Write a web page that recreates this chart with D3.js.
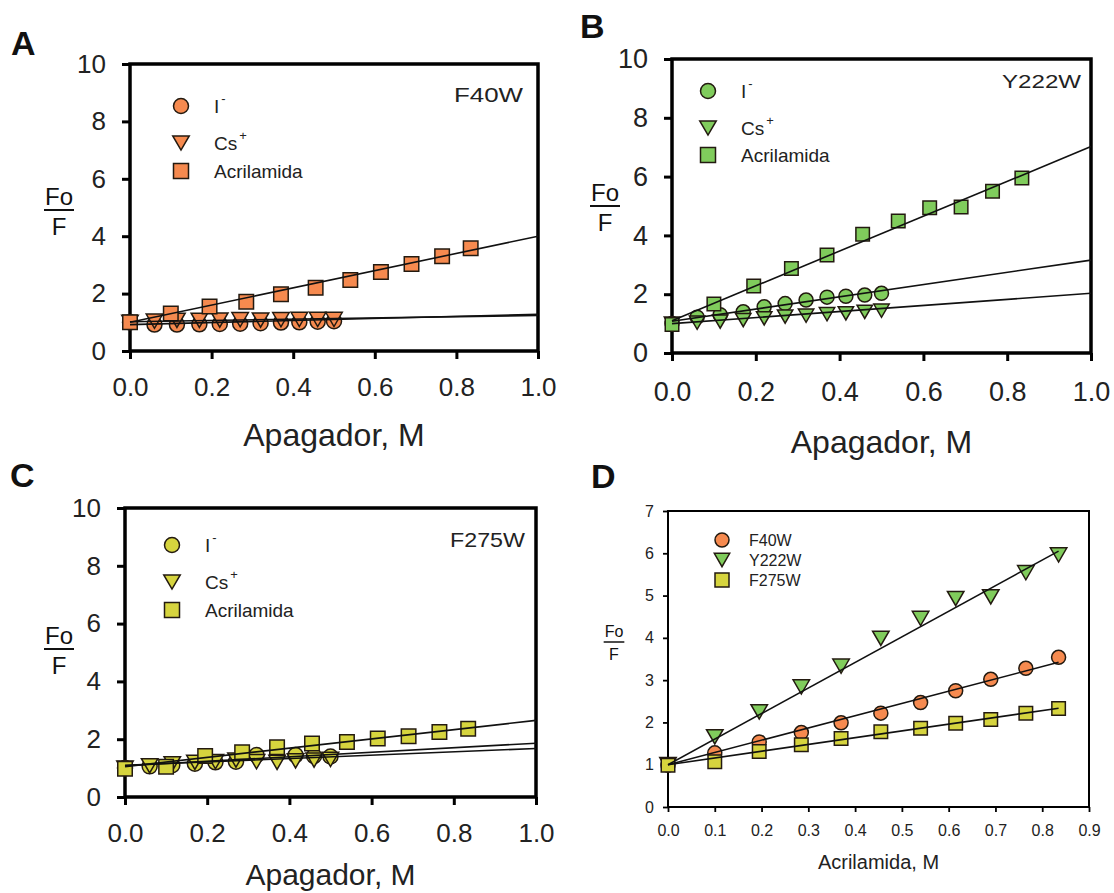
<!DOCTYPE html>
<html>
<head>
<meta charset="utf-8">
<script src="https://cdn.jsdelivr.net/npm/d3@7"></script>
<style>
  html, body { margin: 0; padding: 0; background: #fff; }
  svg { display: block; }
  text { font-family: "Liberation Sans", Arial, Helvetica, sans-serif; }
</style>
</head>
<body>
<svg id="fig" width="1114" height="893"></svg>
<script>
// ---- Quencher concentrations (M) ----
const xIon = [0, 0.06, 0.115, 0.17, 0.22, 0.27, 0.32, 0.37, 0.415, 0.46, 0.50];
const xAcr = [0, 0.10, 0.195, 0.285, 0.37, 0.455, 0.54, 0.615, 0.69, 0.765, 0.835];

// ---- Panel A: F40W (Fo/F) ----
const iodideA = [1.0, 0.92, 0.92, 0.93, 0.94, 0.95, 0.97, 0.99, 1.0, 1.02, 1.04];
const cesiumA = [1.0, 1.04, 1.07, 1.07, 1.08, 1.09, 1.08, 1.09, 1.1, 1.1, 1.1];
const acrA    = [1.0, 1.31, 1.55, 1.72, 1.98, 2.2, 2.47, 2.75, 3.03, 3.3, 3.58];

// ---- Panel B: Y222W ----
const iodideB = [1.0, 1.22, 1.30, 1.40, 1.57, 1.68, 1.80, 1.90, 1.93, 1.97, 2.03];
const cesiumB = [1.0, 1.03, 1.07, 1.12, 1.18, 1.24, 1.27, 1.32, 1.35, 1.40, 1.44];
const acrB    = [0.97, 1.67, 2.28, 2.87, 3.33, 4.04, 4.49, 4.94, 4.97, 5.5, 5.95];

// ---- Panel C: F275W ----
const iodideC = [1.0, 1.06, 1.1, 1.15, 1.2, 1.22, 1.45, 1.48, 1.45, 1.42, 1.4];
const cesiumC = [1.0, 1.08, 1.15, 1.2, 1.22, 1.28, 1.22, 1.2, 1.25, 1.28, 1.3];
const acrC    = [0.98, 1.05, 1.42, 1.55, 1.72, 1.85, 1.9, 2.02, 2.1, 2.25, 2.36];

// ---- Panel D: acrylamide, all mutants ----
const dF40W  = [0.99, 1.28, 1.54, 1.76, 1.99, 2.22, 2.47, 2.75, 3.02, 3.28, 3.54];
const dY222W = [1.0, 1.66, 2.25, 2.84, 3.33, 3.99, 4.46, 4.93, 4.97, 5.54, 5.96];
const dF275W = [0.99, 1.07, 1.31, 1.47, 1.62, 1.78, 1.86, 1.98, 2.07, 2.22, 2.33];

// ---- Stern-Volmer fits: [intercept, slope] ----
const fitA = { iodide: [0.92, 0.36], cesium: [1.02, 0.22], acr: [1.0, 3.0] };
const fitB = { iodide: [1.08, 2.08], cesium: [1.0, 1.03], acr: [1.1, 5.92] };
const fitC = { iodide: [1.08, 0.78], cesium: [1.1, 0.58], acr: [1.05, 1.6] };
const fitD = { F40W: [1.0, 2.9], Y222W: [1.0, 6.05], F275W: [1.0, 1.6] };

// ---- Labels and ticks ----
const quencherNames = ["I", "Cs", "Acrilamida"];
const quencherCharges = ["-", "+", ""];
const mutantNames = ["F40W", "Y222W", "F275W"];
const ticksFoF = [0, 2, 4, 6, 8, 10];
const ticksQuencher = [0, 0.2, 0.4, 0.6, 0.8, 1.0];
const ticksFoFD = [0, 1, 2, 3, 4, 5, 6, 7];
const ticksAcrD = [0, 0.1, 0.2, 0.3, 0.4, 0.5, 0.6, 0.7, 0.8, 0.9];

const COLORS = { F40W: "#F68A4F", Y222W: "#80CC5C", F275W: "#D6D43E" };
const EDGE = "#231a10";

const svg = d3.select("#fig");

function markerPath(shape, s) {
  if (shape === "circle") return d3.symbol(d3.symbolCircle, Math.PI * (s / 2) * (s / 2))();
  if (shape === "square") return d3.symbol(d3.symbolSquare, s * s)();
  const w = s * 1.1, h = s * 0.95;
  return `M${-w / 2},${-h / 2}L${w / 2},${-h / 2}L0,${h / 2}Z`;
}

function fracLabel(g, cx, yFo, yLine, yF, size, lw) {
  const fo = g.append("text").attr("x", cx).attr("y", yFo).attr("text-anchor", "middle")
    .attr("font-size", size).attr("fill", "#111").text("Fo");
  const w = fo.node().getComputedTextLength();
  g.append("line").attr("x1", cx - w / 2 - 1).attr("x2", cx + w / 2 + 1)
    .attr("y1", yLine).attr("y2", yLine).attr("stroke", "#111").attr("stroke-width", lw);
  g.append("text").attr("x", cx).attr("y", yF).attr("text-anchor", "middle")
    .attr("font-size", size).attr("fill", "#111").text("F");
}

function drawPanel(p) {
  const g = svg.append("g");
  const x = d3.scaleLinear().domain(p.xDomain).range([p.left, p.right]);
  const y = d3.scaleLinear().domain(p.yDomain).range([p.bottom, p.top]);

  // frame
  g.append("rect").attr("x", p.left).attr("y", p.top)
    .attr("width", p.right - p.left).attr("height", p.bottom - p.top)
    .attr("fill", "none").attr("stroke", "#000").attr("stroke-width", p.frameW);

  // axes
  const xa = g.append("g").attr("transform", `translate(0,${p.bottom})`)
    .call(d3.axisBottom(x).tickValues(p.xTicks).tickFormat(d3.format(".1f"))
      .tickSizeInner(p.tick).tickSizeOuter(0).tickPadding(p.xPad));
  const ya = g.append("g").attr("transform", `translate(${p.left},0)`)
    .call(d3.axisLeft(y).tickValues(p.yTicks).tickFormat(d3.format("d"))
      .tickSizeInner(p.tick).tickSizeOuter(0).tickPadding(p.yPad));
  [xa, ya].forEach(a => {
    a.select(".domain").remove();
    a.selectAll(".tick line").attr("stroke", "#000").attr("stroke-width", p.tickW);
    a.selectAll(".tick text").attr("font-size", p.tickFont).attr("fill", "#222")
      .attr("font-family", '"Liberation Sans", Arial, sans-serif');
  });

  // markers
  p.series.forEach(s => {
    g.append("g").selectAll("path").data(s.ys).join("path")
      .attr("d", markerPath(s.shape, s.size))
      .attr("transform", (d, i) => `translate(${x(s.xs[i])},${y(d)})`)
      .attr("fill", s.color).attr("stroke", EDGE).attr("stroke-width", 1.5);
  });

  // fit lines on top of markers
  const line = d3.line().x(d => x(d[0])).y(d => y(d[1]));
  p.series.forEach(s => {
    const [b, k] = s.fit;
    const pts = [[0, b], [s.fitEnd, b + k * s.fitEnd]];
    g.append("path").attr("d", line(pts)).attr("fill", "none")
      .attr("stroke", "#111").attr("stroke-width", p.fitW);
  });

  // legend
  p.series.forEach((s, i) => {
    const ly = p.legend.y + p.legend.rows[i];
    g.append("path").attr("d", markerPath(s.shape, p.legend.size))
      .attr("transform", `translate(${p.legend.mx},${ly})`)
      .attr("fill", s.color).attr("stroke", EDGE).attr("stroke-width", 1.5);
    const t = g.append("text").attr("x", p.legend.tx).attr("y", ly + p.legend.font * 0.36)
      .attr("font-size", p.legend.font).attr("fill", "#222").text(s.name);
    if (s.charge) {
      t.append("tspan").attr("dy", -p.legend.font * 0.5).attr("dx", 2)
        .attr("font-size", p.legend.font * 0.68).text(s.charge);
    }
  });

  // mutant tag in corner, widened horizontally
  if (p.tag) {
    const tg = g.append("g");
    const tt = tg.append("text").attr("x", 0).attr("y", 0).attr("text-anchor", "end")
      .attr("font-size", p.tag.font).attr("fill", "#222").text(p.tag.text);
    const w = tt.node().getComputedTextLength();
    tg.attr("transform", `translate(${p.right - p.tag.inset},${p.top + p.tag.dy}) scale(${p.tag.len / w},1)`);
  }

  // axis titles
  g.append("text").attr("x", (p.left + p.right) / 2).attr("y", p.xTitleY)
    .attr("text-anchor", "middle").attr("font-size", p.xTitleFont).attr("fill", "#222")
    .text(p.xTitle);
  fracLabel(g, p.frac.cx, p.frac.fo, p.frac.line, p.frac.f, p.frac.size, p.frac.lw);

  // panel letter
  svg.append("text").attr("x", p.letter.x).attr("y", p.letter.y)
    .attr("font-size", 34).attr("font-weight", "bold").attr("fill", "#111").text(p.key);
}

function quenchSeries(color, iod, ces, acr, fit, size) {
  return [
    { name: quencherNames[0], charge: quencherCharges[0], shape: "circle", color, xs: xIon, ys: iod, fit: fit.iodide, fitEnd: 1.0, size },
    { name: quencherNames[1], charge: quencherCharges[1], shape: "triangle", color, xs: xIon, ys: ces, fit: fit.cesium, fitEnd: 1.0, size },
    { name: quencherNames[2], charge: quencherCharges[2], shape: "square", color, xs: xAcr, ys: acr, fit: fit.acr, fitEnd: 1.0, size: size - 0.5 }
  ];
}

const common = {
  xDomain: [0, 1], yDomain: [0, 10], xTicks: ticksQuencher, yTicks: ticksFoF,
  tick: 8, tickW: 3, frameW: 3.5, fitW: 1.6, tickFont: 26, xPad: 19, yPad: 16,
  xTitle: "Apagador, M", xTitleFont: 32
};

drawPanel(Object.assign({}, common, {
  key: "A", left: 130, right: 538, top: 64, bottom: 351,
  series: quenchSeries(COLORS.F40W, iodideA, cesiumA, acrA, fitA, 15),
  legend: { mx: 181, tx: 214, y: 106, rows: [0, 37, 65], size: 15, font: 19 },
  tag: { text: mutantNames[0], inset: 15, dy: 38, font: 20, len: 69 },
  xTitleY: 446,
  frac: { cx: 59, fo: 205, line: 210, f: 235, size: 24, lw: 2 },
  letter: { x: 11, y: 55 }
}));

drawPanel(Object.assign({}, common, {
  key: "B", left: 672, right: 1091, top: 59, bottom: 353,
  tickFont: 27, xPad: 21,
  series: quenchSeries(COLORS.Y222W, iodideB, cesiumB, acrB, fitB, 14),
  legend: { mx: 708, tx: 741, y: 91, rows: [0, 37, 64], size: 15, font: 19 },
  tag: { text: mutantNames[1], inset: 10, dy: 29, font: 18, len: 79 },
  xTitleY: 453,
  frac: { cx: 605, fo: 201, line: 206, f: 231, size: 24, lw: 2 },
  letter: { x: 580, y: 38 }
}));

drawPanel(Object.assign({}, common, {
  key: "C", left: 125, right: 536, top: 508, bottom: 797,
  series: quenchSeries(COLORS.F275W, iodideC, cesiumC, acrC, fitC, 15),
  legend: { mx: 172, tx: 205, y: 545, rows: [0, 37, 65], size: 15, font: 19 },
  tag: { text: mutantNames[2], inset: 11, dy: 39, font: 20, len: 75 },
  xTitleY: 885, xTitleFont: 30,
  frac: { cx: 59, fo: 644, line: 649, f: 674, size: 24, lw: 2 },
  letter: { x: 10, y: 487 }
}));

drawPanel({
  key: "D", left: 668, right: 1089, top: 511, bottom: 807,
  xDomain: [0, 0.9], yDomain: [0, 7], xTicks: ticksAcrD, yTicks: ticksFoFD,
  tick: 5, tickW: 1.8, frameW: 2, fitW: 1.6, tickFont: 16, xPad: 13, yPad: 9,
  series: [
    { name: mutantNames[0], shape: "circle", color: COLORS.F40W, xs: xAcr, ys: dF40W, fit: fitD.F40W, fitEnd: 0.835, size: 14 },
    { name: mutantNames[1], shape: "triangle", color: COLORS.Y222W, xs: xAcr, ys: dY222W, fit: fitD.Y222W, fitEnd: 0.835, size: 15 },
    { name: mutantNames[2], shape: "square", color: COLORS.F275W, xs: xAcr, ys: dF275W, fit: fitD.F275W, fitEnd: 0.835, size: 13.5 }
  ],
  legend: { mx: 722, tx: 749, y: 540, rows: [0, 20, 40], size: 14, font: 16 },
  tag: null,
  xTitle: "Acrilamida, M", xTitleFont: 20, xTitleY: 869,
  frac: { cx: 614, fo: 637, line: 642, f: 660, size: 16, lw: 1.5 },
  letter: { x: 591, y: 488 }
});
</script>
</body>
</html>
